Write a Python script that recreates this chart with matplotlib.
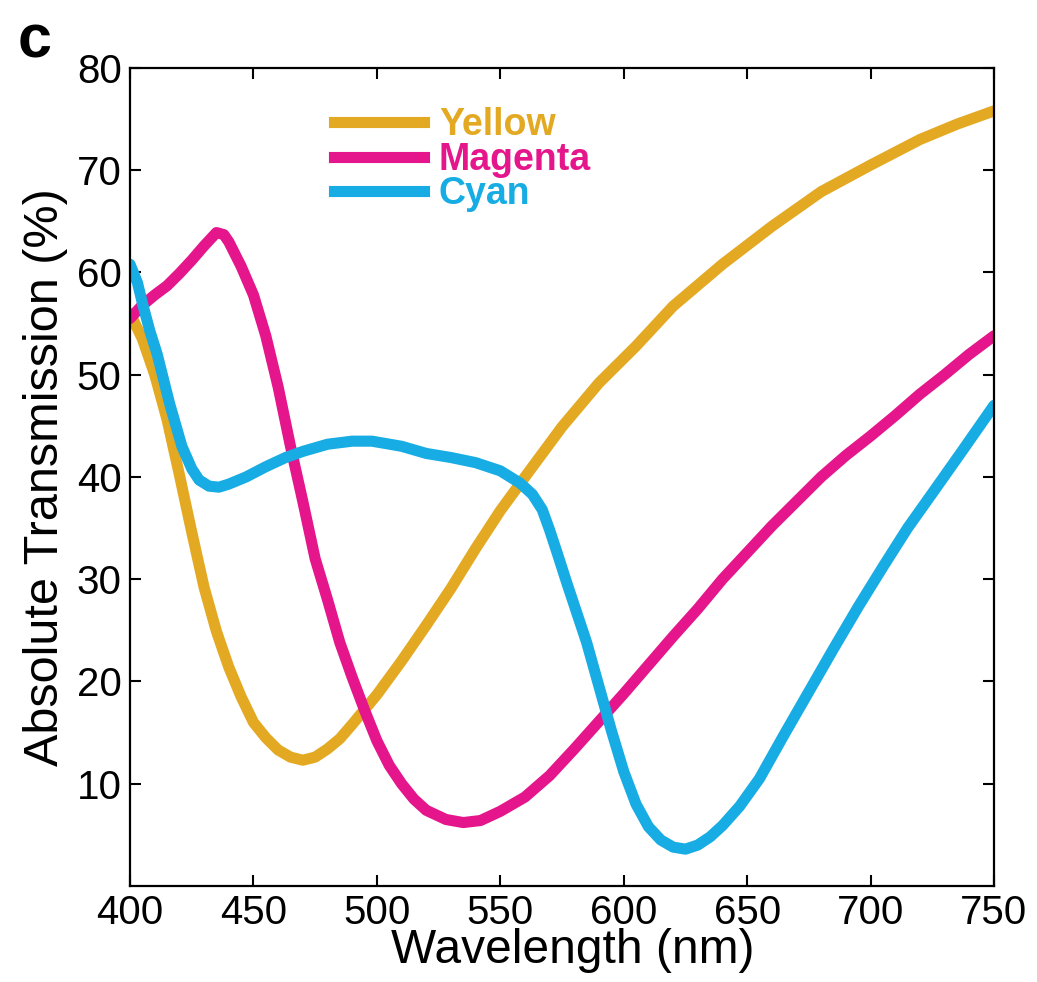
import matplotlib
matplotlib.use('Agg')
import matplotlib.pyplot as plt
from matplotlib.lines import Line2D

# transmission spectra (wavelength nm, transmission %)
yellow_wl = [400, 405, 410, 415, 420, 425, 430, 435, 440, 445, 450, 455, 460, 465,
             470, 475, 480, 485, 490, 500, 510, 520, 530, 540, 550, 560, 575, 590,
             605, 620, 640, 660, 680, 700, 720, 735, 750]
yellow_t = [56.0, 53.5, 50.0, 45.6, 40.2, 34.6, 29.2, 24.9, 21.4, 18.5, 16.0, 14.5,
            13.3, 12.6, 12.3, 12.6, 13.4, 14.4, 15.8, 18.7, 22.0, 25.5, 29.1, 33.0,
            36.7, 40.0, 44.9, 49.2, 52.8, 56.7, 60.8, 64.5, 67.9, 70.5, 73.0, 74.5, 75.8]

magenta_wl = [400, 405, 410, 415, 420, 425, 430, 435, 438, 440, 445, 450, 455, 460,
              465, 470, 475, 480, 485, 490, 495, 500, 505, 510, 515, 520, 528, 535,
              542, 550, 560, 570, 580, 590, 600, 610, 620, 630, 640, 650, 660, 670,
              680, 690, 700, 710, 720, 730, 740, 750]
magenta_t = [55.5, 56.8, 57.8, 58.7, 59.9, 61.2, 62.6, 63.9, 63.7, 63.0, 60.6, 57.8,
             53.8, 48.8, 43.0, 37.6, 32.0, 28.0, 23.8, 20.4, 17.2, 14.2, 11.8, 10.0,
             8.5, 7.4, 6.5, 6.2, 6.4, 7.3, 8.7, 10.8, 13.4, 16.1, 18.8, 21.6, 24.4,
             27.1, 30.0, 32.6, 35.2, 37.6, 40.0, 42.1, 44.0, 46.0, 48.1, 50.0, 52.0, 53.8]

cyan_wl = [400, 403, 405, 408, 411, 416, 421, 425, 428, 432, 436, 440, 447, 455, 463,
           470, 480, 490, 498, 510, 520, 530, 540, 550, 558, 563, 567, 570, 573, 577,
           581, 585, 590, 595, 600, 605, 610, 615, 620, 625, 630, 635, 640, 647, 655,
           665, 675, 685, 695, 705, 715, 725, 737, 750]
cyan_t = [60.8, 59.0, 57.0, 54.3, 52.0, 47.2, 43.0, 40.8, 39.7, 39.1, 39.0, 39.3, 40.0,
          41.0, 41.9, 42.5, 43.2, 43.5, 43.5, 43.0, 42.3, 41.9, 41.4, 40.6, 39.4, 38.3,
          36.8, 34.8, 32.6, 29.6, 26.7, 23.8, 19.5, 15.2, 11.2, 8.0, 5.8, 4.5, 3.8, 3.6,
          4.0, 4.8, 5.9, 7.8, 10.5, 14.8, 19.0, 23.2, 27.3, 31.2, 35.0, 38.4, 42.5, 47.0]

series_names = ['Yellow', 'Magenta', 'Cyan']
series_colors = ['#E3A923', '#E5158C', '#17ACE3']
x_ticks = [400, 450, 500, 550, 600, 650, 700, 750]
y_ticks = [10, 20, 30, 40, 50, 60, 70, 80]

plt.rcParams['font.family'] = ['Liberation Sans', 'DejaVu Sans']

fig = plt.figure(figsize=(10.37, 9.82), dpi=100)
ax = fig.add_axes([0.1254, 0.0978, 0.8331, 0.833])

curves = [(yellow_wl, yellow_t), (magenta_wl, magenta_t), (cyan_wl, cyan_t)]
for (wl, t), color in zip(curves, series_colors):
    ax.plot(wl, t, color=color, lw=8, solid_capstyle='round', solid_joinstyle='round')

ax.set_xlim(400, 750)
ax.set_ylim(0, 80)
ax.set_xticks(x_ticks)
ax.set_yticks(y_ticks)
ax.tick_params(direction='in', length=8, width=1.5, labelsize=29,
               top=True, right=True, pad=6)
for sp in ax.spines.values():
    sp.set_linewidth(1.6)

ax.set_xlabel('Wavelength (nm)', fontsize=34.5, labelpad=-3)
ax.xaxis.set_label_coords(0.512, -0.052, transform=ax.transAxes)
ax.xaxis.label.set_va('top')
ax.set_ylabel('Absolute Transmission (%)', fontsize=35, labelpad=6)

# legend with coloured bold labels
handles = [Line2D([0], [0], color=c, lw=8) for c in series_colors]
leg = ax.legend(handles, series_names, loc='upper left', bbox_to_anchor=(0.236, 0.952),
                frameon=False, handlelength=2.4, handletextpad=0.4, labelspacing=-0.04,
                borderpad=0, borderaxespad=0, prop={'size': 27, 'weight': 'bold'})
for txt, c in zip(leg.get_texts(), series_colors):
    txt.set_color(c)

fig.text(0.017, 0.941, 'c', fontsize=44, fontweight='bold', va='baseline')

fig.savefig('out.png', dpi=100)
